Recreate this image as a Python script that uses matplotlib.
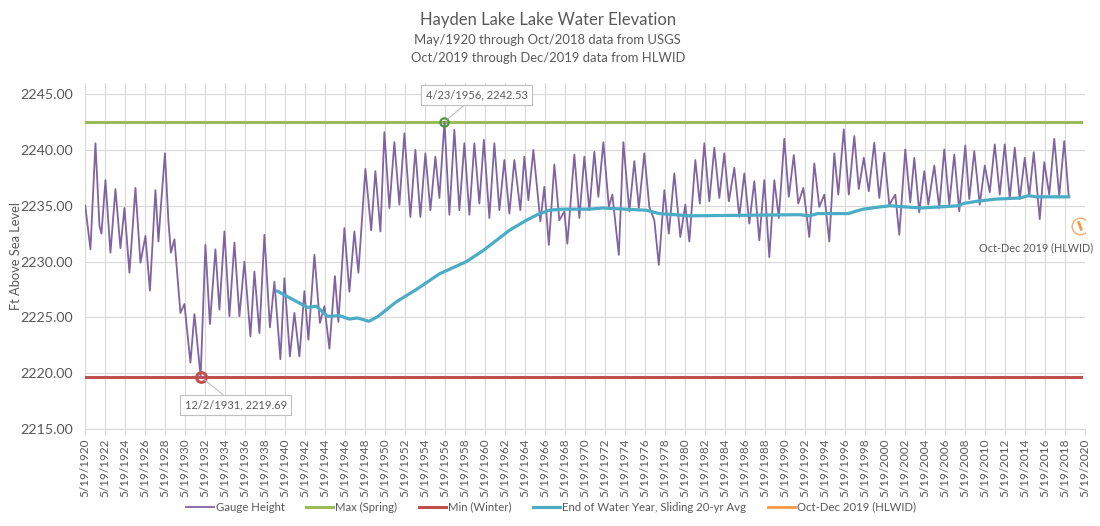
import matplotlib
matplotlib.use("Agg")
import matplotlib.pyplot as plt

plt.rcParams['font.family'] = ['Lato', 'DejaVu Sans']

# ---- data (decimal years, ft above sea level) ----
gauge_dates = [
    1920.38, 1920.9, 1921.4, 1921.8, 1922.0, 1922.4, 1922.9, 1923.4, 1923.9, 1924.3,
    1924.8, 1925.4, 1925.9, 1926.4, 1926.85, 1927.4, 1927.7, 1927.95, 1928.35, 1928.7,
    1928.95, 1929.3, 1929.9, 1930.3, 1930.9, 1931.3, 1931.92, 1932.4, 1932.85, 1933.4,
    1933.8, 1934.3, 1934.8, 1935.3, 1935.8, 1936.3, 1936.9, 1937.3, 1937.8, 1938.3,
    1938.85, 1939.3, 1939.9, 1940.3, 1940.85, 1941.3, 1941.8, 1942.3, 1942.7, 1943.3,
    1943.85, 1944.3, 1944.8, 1945.35, 1945.7, 1946.3, 1946.8, 1947.3, 1947.7, 1948.4,
    1948.98, 1949.4, 1949.9, 1950.3, 1950.8, 1951.3, 1951.8, 1952.3, 1952.9, 1953.4,
    1953.9, 1954.4, 1954.9, 1955.4, 1955.8, 1956.31, 1956.8, 1957.3, 1957.8, 1958.3,
    1958.8, 1959.3, 1959.8, 1960.25, 1960.8, 1961.3, 1961.8, 1962.3, 1962.8, 1963.3,
    1963.9, 1964.3, 1964.7, 1965.2, 1965.9, 1966.3, 1966.75, 1967.3, 1967.8, 1968.3,
    1968.6, 1969.3, 1969.8, 1970.3, 1970.8, 1971.3, 1971.7, 1972.2, 1972.75, 1973.1,
    1973.75, 1974.2, 1974.8, 1975.3, 1975.75, 1976.3, 1976.8, 1977.3, 1977.75, 1978.3,
    1978.75, 1979.3, 1979.9, 1980.4, 1980.8, 1981.4, 1981.85, 1982.3, 1982.8, 1983.3,
    1983.8, 1984.3, 1984.75, 1985.3, 1985.8, 1986.3, 1986.8, 1987.3, 1987.8, 1988.3,
    1988.8, 1989.3, 1989.75, 1990.3, 1990.75, 1991.25, 1991.7, 1992.2, 1992.8, 1993.3,
    1993.8, 1994.3, 1994.8, 1995.3, 1995.7, 1996.25, 1996.75, 1997.3, 1997.75, 1998.25,
    1998.75, 1999.3, 1999.8, 2000.3, 2000.8, 2001.4, 2001.8, 2002.4, 2002.9, 2003.3,
    2003.8, 2004.3, 2004.7, 2005.3, 2005.8, 2006.3, 2006.8, 2007.3, 2007.8, 2008.4,
    2008.8, 2009.3, 2009.85, 2010.35, 2010.85, 2011.35, 2011.85, 2012.35, 2012.85, 2013.35,
    2013.85, 2014.35, 2014.8, 2015.25, 2015.85, 2016.3, 2016.8, 2017.3, 2017.8, 2018.3,
    2018.75,
]
gauge_values = [
    2235.0, 2231.1, 2240.6, 2233.2, 2232.5, 2237.3, 2230.8, 2236.5, 2231.2, 2234.8,
    2229.0, 2236.6, 2229.9, 2232.3, 2227.4, 2236.4, 2231.8, 2235.0, 2239.7, 2233.6,
    2230.8, 2232.0, 2225.4, 2226.2, 2220.95, 2225.3, 2219.69, 2231.5, 2224.4, 2231.1,
    2225.7, 2232.7, 2225.1, 2231.7, 2225.1, 2230.0, 2223.3, 2229.1, 2223.6, 2232.4,
    2224.1, 2228.2, 2221.25, 2228.5, 2221.5, 2225.4, 2221.5, 2227.35, 2223.0, 2230.6,
    2224.5, 2226.0, 2222.2, 2228.7, 2224.6, 2233.0, 2227.3, 2232.7, 2229.0, 2238.3,
    2232.8, 2238.1, 2232.7, 2241.6, 2234.8, 2240.7, 2235.1, 2241.5, 2234.0, 2240.0,
    2234.0, 2239.7, 2234.6, 2239.4, 2235.7, 2242.53, 2234.2, 2241.8, 2234.6, 2240.6,
    2234.2, 2240.6, 2235.2, 2240.9, 2233.9, 2240.6, 2234.6, 2239.1, 2234.3, 2239.1,
    2234.6, 2239.4, 2235.5, 2240.0, 2233.6, 2236.7, 2231.5, 2238.7, 2233.7, 2234.5,
    2231.6, 2239.6, 2233.9, 2239.4, 2234.6, 2239.85, 2235.8, 2240.7, 2234.9, 2236.0,
    2230.6, 2240.7, 2234.5, 2239.0, 2234.8, 2239.7, 2234.9, 2233.7, 2229.7, 2236.4,
    2232.5, 2237.9, 2232.2, 2235.1, 2231.8, 2239.1, 2235.2, 2240.6, 2235.4, 2240.2,
    2235.7, 2239.7, 2235.4, 2238.4, 2234.0, 2237.9, 2233.4, 2237.2, 2231.9, 2237.3,
    2230.4, 2237.3, 2233.9, 2241.0, 2235.8, 2239.55, 2235.2, 2236.6, 2232.2, 2238.8,
    2234.9, 2236.0, 2231.8, 2239.7, 2236.0, 2241.85, 2236.0, 2241.25, 2236.5, 2239.3,
    2236.3, 2240.65, 2235.7, 2239.75, 2235.1, 2236.0, 2232.4, 2240.05, 2235.3, 2239.3,
    2234.4, 2238.1, 2235.1, 2238.6, 2234.8, 2240.05, 2235.1, 2239.6, 2234.5, 2240.4,
    2235.6, 2239.9, 2235.1, 2238.6, 2236.2, 2240.5, 2236.0, 2240.5, 2235.7, 2240.2,
    2235.6, 2239.3, 2235.9, 2239.8, 2233.8, 2238.9, 2236.0, 2241.0, 2235.9, 2240.8,
    2235.8,
]

avg_dates = [
    1939.6, 1942.6, 1943.5, 1944.6, 1945.8, 1946.8, 1947.6, 1948.75, 1949.6, 1951.5,
    1953.5, 1955.8, 1958.5, 1960.2, 1962.8, 1964.5, 1965.6, 1966.8, 1968.1, 1970.8,
    1972.15, 1976.5, 1977.8, 1980.8, 1986.5, 1991.8, 1992.8, 1993.65, 1995.8, 1996.7,
    1997.4, 1998.2, 1999.9, 2000.9, 2003.9, 2005.9, 2007.7, 2008.2, 2009.5, 2011.5,
    2013.9, 2014.7, 2015.5, 2018.75,
]
avg_values = [
    2227.35, 2225.9, 2226.0, 2225.1, 2225.15, 2224.85, 2224.95, 2224.65, 2225.05, 2226.4,
    2227.5, 2228.9, 2230.0, 2231.0, 2232.8, 2233.7, 2234.2, 2234.6, 2234.7, 2234.7,
    2234.8, 2234.6, 2234.3, 2234.1, 2234.15, 2234.2, 2234.1, 2234.3, 2234.3, 2234.3,
    2234.5, 2234.7, 2234.9, 2235.0, 2234.8, 2234.9, 2235.0, 2235.2, 2235.4, 2235.6,
    2235.7, 2235.9, 2235.8, 2235.8,
]

hlwid_dates = [2019.75, 2019.99]
hlwid_values = [2233.5, 2232.9]

max_line_dates = [1920.38, 2019.95]
max_value = 2242.53
min_value = 2219.69
max_date = 1956.31
min_date = 1931.92

tick_years = list(range(1920, 2021, 2))
tick_labels = [f"5/19/{y}" for y in tick_years]
y_ticks = [2215, 2220, 2225, 2230, 2235, 2240, 2245]

title = "Hayden Lake Lake Water Elevation"
subtitle1 = "May/1920 through Oct/2018 data from USGS"
subtitle2 = "Oct/2019 through Dec/2019 data from HLWID"

# ---- styling ----
C_PURPLE = '#8064A2'
C_GREEN = '#9BBB59'
C_RED = '#C0504D'
C_TEAL = '#4BACC6'
C_ORANGE = '#F79646'
C_TEXT = '#595959'
C_GRID = '#D9D9D9'

fig = plt.figure(figsize=(11, 5.26), dpi=100)
ax = fig.add_axes([0.0775, 0.1844, 0.9089, 0.6578])

ax.plot(gauge_dates, gauge_values, color=C_PURPLE, lw=1.3, label='Gauge Height', zorder=3)
ax.plot(max_line_dates, [max_value] * 2, color=C_GREEN, lw=2.2, label='Max (Spring)', zorder=2)
ax.plot(max_line_dates, [min_value] * 2, color=C_RED, lw=2.2, label='Min (Winter)', zorder=2)
ax.plot(avg_dates, avg_values, color=C_TEAL, lw=2.3, label='End of Water Year, Sliding 20-yr Avg', zorder=4)
ax.plot(hlwid_dates, hlwid_values, color=C_ORANGE, lw=2.0, label='Oct-Dec 2019 (HLWID)', zorder=4)

# highlighted points
ax.plot([max_date], [max_value], marker='o', ms=6, mfc='none', mec='#4C9A3C', mew=1.6, zorder=5)
ax.plot([min_date], [min_value], marker='o', ms=7, mfc='none', mec=C_RED, mew=2.2, zorder=5)
ax.plot([sum(hlwid_dates) / 2], [sum(hlwid_values) / 2], marker='o', ms=12, mfc='none',
        mec=C_ORANGE, mew=1.0, alpha=0.8, zorder=5)

box = dict(boxstyle='square,pad=0.4', fc='white', ec='#BFBFBF', lw=0.8)
ax.annotate(f"4/23/1956, {max_value:.2f}", xy=(max_date, max_value), xytext=(1959.55, 2244.95),
            ha='center', va='center', fontsize=8, color=C_TEXT, bbox=box,
            arrowprops=dict(arrowstyle='-', color='#BFBFBF', lw=0.8, shrinkA=0, shrinkB=3), zorder=6)
ax.annotate(f"12/2/1931, {min_value:.2f}", xy=(min_date, min_value), xytext=(1935.45, 2217.15),
            ha='center', va='center', fontsize=8, color=C_TEXT, bbox=box,
            arrowprops=dict(arrowstyle='-', color='#BFBFBF', lw=0.8, shrinkA=0, shrinkB=3), zorder=6)
ax.text(2021.2, 2231.2, "Oct-Dec 2019 (HLWID)", ha='right', va='center', fontsize=7.8,
        color=C_TEXT, clip_on=False)

ax.set_xlim(1920.38, 2020.38)
ax.set_ylim(2215, 2246)
ax.set_xticks([y + 0.38 for y in tick_years])
ax.set_xticklabels(tick_labels, rotation=90, fontsize=8.5, color=C_TEXT)
ax.set_yticks(y_ticks)
ax.set_yticklabels([f"{v:.2f}" for v in y_ticks], fontsize=10.3, color=C_TEXT)
ax.tick_params(axis='y', length=0, pad=9)
ax.tick_params(axis='x', length=4, color=C_GRID, pad=3)
ax.grid(True, color=C_GRID, lw=0.8, zorder=0)
ax.set_axisbelow(True)
for s in ['top', 'right', 'left']:
    ax.spines[s].set_visible(False)
ax.spines['bottom'].set_color(C_GRID)

ax.set_ylabel("Ft Above Sea Level", fontsize=9.3, color=C_TEXT)
ax.yaxis.set_label_coords(-0.063, 0.5)

fig.text(0.498, 1 - 20 / 526, title, ha='center', va='center', fontsize=12, color=C_TEXT)
fig.text(0.498, 1 - 40 / 526, subtitle1, ha='center', va='center', fontsize=9.4, color=C_TEXT)
fig.text(0.498, 1 - 58 / 526, subtitle2, ha='center', va='center', fontsize=9.4, color=C_TEXT)

leg = fig.legend(loc='center', bbox_to_anchor=(0.501, 0.036), ncol=5, frameon=False,
                 fontsize=8.2, handlelength=2.4, handletextpad=0.15, columnspacing=1.9)
for t in leg.get_texts():
    t.set_color(C_TEXT)

fig.savefig("out.png", dpi=100)
